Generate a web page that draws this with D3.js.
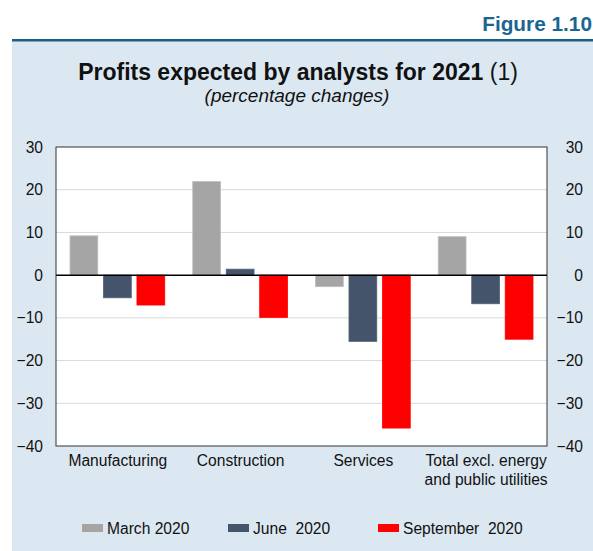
<!DOCTYPE html>
<html><head><meta charset="utf-8">
<script src="https://cdn.jsdelivr.net/npm/d3@7"></script>
<style>body{margin:0;background:#fff;}svg{display:block;font-family:"Liberation Sans",Arial,sans-serif;}</style>
</head><body>
<svg id="c" width="593" height="551"></svg>
<script>
const categories = [["Manufacturing"], ["Construction"], ["Services"], ["Total excl. energy", "and public utilities"]];
const seriesNames = ["March 2020", "June  2020", "September  2020"];
const seriesColors = ["#a5a5a5", "#44546a", "#ff0000"];
const march2020 = [9.2, 21.9, -2.7, 9.0];
const june2020 = [-5.3, 1.4, -15.5, -6.7];
const september2020 = [-7.0, -9.9, -35.8, -15.0];
const yTicks = [30, 20, 10, 0, -10, -20, -30, -40];

const series = [march2020, june2020, september2020];
const svg = d3.select("#c");
const W = 593, H = 551;
const FS = 15.6;

// panel
svg.append("rect").attr("x", 12).attr("y", 41).attr("width", W - 12).attr("height", H - 41).attr("fill", "#dce8f1");
svg.append("rect").attr("x", 12).attr("y", 39).attr("width", W - 12).attr("height", 2.5).attr("fill", "#1b5f82");
svg.append("text").attr("x", 592).attr("y", 31).attr("text-anchor", "end")
  .attr("font-size", 20.8).attr("font-weight", "bold").attr("fill", "#1a6690").text("Figure 1.10");

// title
const t = svg.append("text").attr("x", 298).attr("y", 80).attr("text-anchor", "middle").attr("font-size", 23).attr("fill", "#111");
t.append("tspan").attr("font-weight", "bold").text("Profits expected by analysts for 2021");
t.append("tspan").text(" (1)");
svg.append("text").attr("x", 297).attr("y", 102).attr("text-anchor", "middle").attr("font-size", 19).attr("font-style", "italic").attr("fill", "#111").text("(percentage changes)");

const L = 56, R = 547, T = 147, B = 446;
const y = d3.scaleLinear().domain([-40, 30]).range([B, T]);
const x0 = d3.scaleBand().domain(d3.range(categories.length)).range([L, R]).paddingInner(0).paddingOuter(0);
const x1 = d3.scaleBand().domain(d3.range(series.length)).range([14, x0.bandwidth() - 14]).paddingInner(0.17);

svg.append("rect").attr("x", L).attr("y", T).attr("width", R - L).attr("height", B - T).attr("fill", "#fff");

// grid
svg.append("g").selectAll("line").data(yTicks.filter(d => d !== 0 && d !== 30 && d !== -40)).join("line")
  .attr("x1", L).attr("x2", R).attr("y1", d => y(d)).attr("y2", d => y(d))
  .attr("stroke", "#d9d9d9").attr("stroke-width", 1);

// bars
series.forEach((vals, si) => {
  svg.append("g").selectAll("rect").data(vals).join("rect")
    .attr("x", (d, i) => x0(i) + x1(si))
    .attr("width", x1.bandwidth())
    .attr("y", d => y(Math.max(0, d)))
    .attr("height", d => Math.abs(y(d) - y(0)))
    .attr("fill", seriesColors[si])
    .attr("stroke", d3.color(seriesColors[si]).brighter(0.4))
    .attr("stroke-width", 0.8);
});

// frame
svg.append("rect").attr("x", L).attr("y", T).attr("width", R - L).attr("height", B - T)
  .attr("fill", "none").attr("stroke", "#333").attr("stroke-width", 1);
svg.append("line").attr("x1", L).attr("x2", R).attr("y1", y(0)).attr("y2", y(0)).attr("stroke", "#000").attr("stroke-width", 1.5);

// axes
const axL = d3.axisLeft(y).tickValues(yTicks).tickSize(0).tickPadding(13);
const gL = svg.append("g").attr("transform", `translate(${L},0)`).call(axL);
const axR = d3.axisRight(y).tickValues(yTicks).tickSize(0).tickPadding(13);
const gR = svg.append("g").attr("transform", `translate(${R},0)`).call(axR);
[gL, gR].forEach(g => {
  g.select(".domain").remove();
  g.selectAll("text").attr("font-size", FS).attr("fill", "#111").attr("font-family", "'Liberation Sans',Arial,sans-serif");
});
gR.selectAll("text").attr("text-anchor", "end").attr("x", 36);

// category labels
const cl = svg.append("g").selectAll("text").data(categories).join("text")
  .attr("x", (d, i) => x0(i) + x0.bandwidth() / 2 + 0.5)
  .attr("y", 466).attr("text-anchor", "middle").attr("font-size", FS).attr("fill", "#111");
cl.each(function(d) {
  d3.select(this).selectAll("tspan").data(d).join("tspan")
    .attr("x", d3.select(this).attr("x")).attr("dy", (s, j) => j === 0 ? 0 : 19).text(s => s);
});

// legend
const legX = [82, 228, 378];
const lg = svg.append("g").selectAll("g").data(seriesNames).join("g")
  .attr("transform", (d, i) => `translate(${legX[i]},524)`);
lg.append("rect").attr("width", 21).attr("height", 8).attr("fill", (d, i) => seriesColors[i]);
lg.append("text").attr("x", 25).attr("y", 9.5).attr("font-size", FS).attr("fill", "#111")
  .attr("xml:space", "preserve").style("white-space", "pre").text(d => d);
</script>
</body></html>
